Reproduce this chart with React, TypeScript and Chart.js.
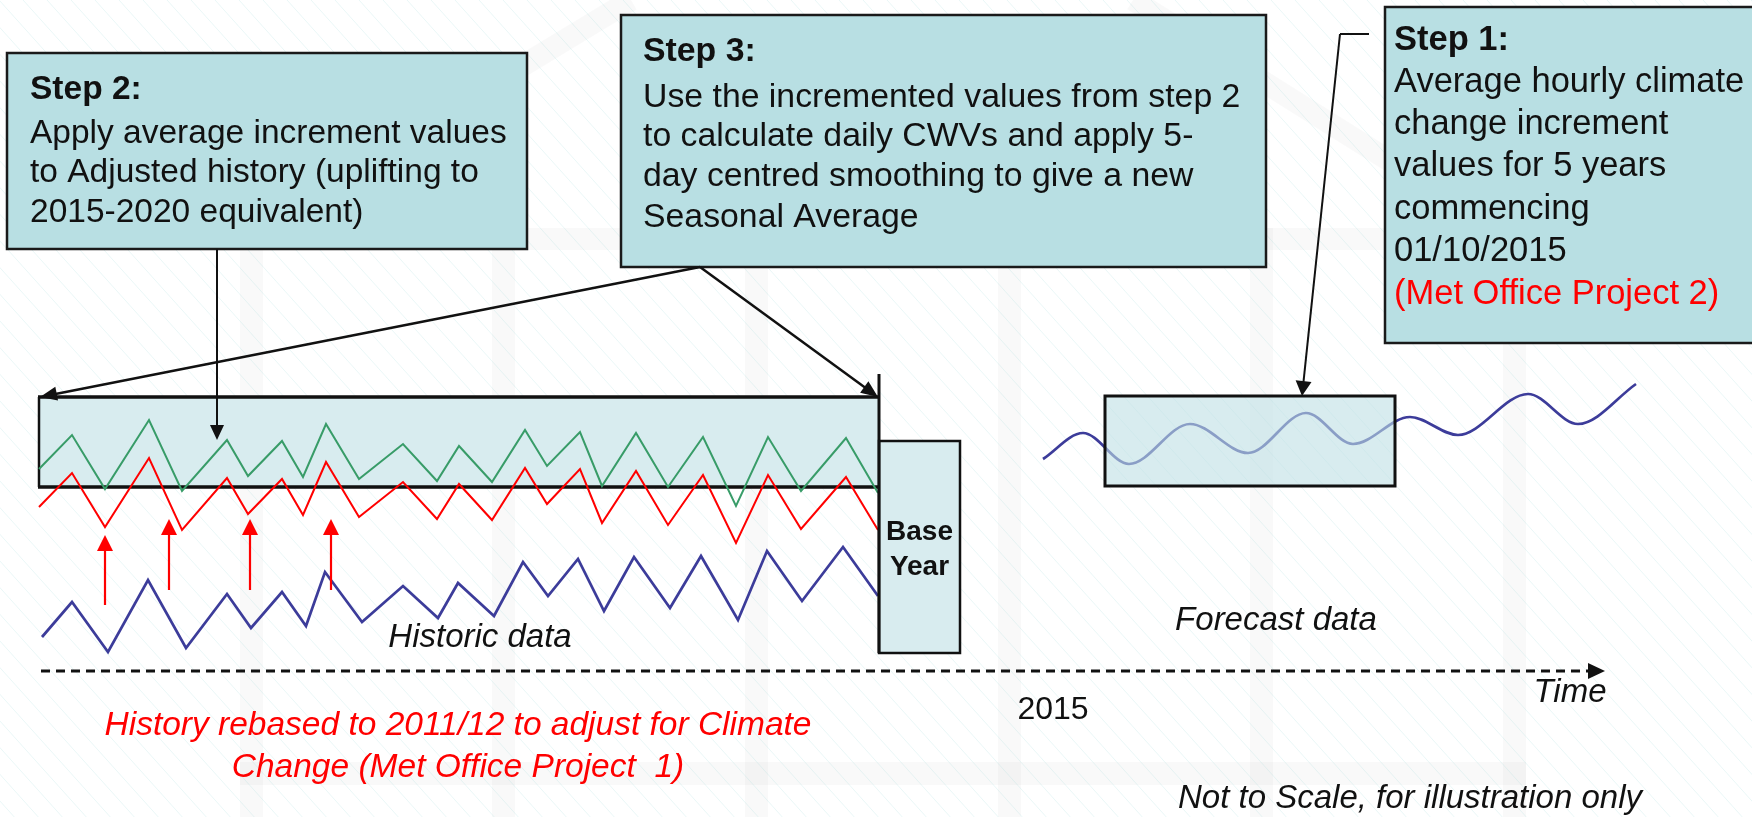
import React, { useEffect, useRef } from 'react';
import { Chart, registerables } from 'chart.js';

Chart.register(...registerables);

// ---------------- DATA (time units, value units) ----------------
const historicTime = [4.2, 7.2, 10.8, 14.8, 18.6, 22.7, 25.1, 28.2, 30.6, 32.5, 36.2, 40.3, 43.8, 45.8, 49.4, 52.3, 54.8, 57.8, 60.4, 63.4, 67.0, 70.1, 73.8, 76.7, 80.2, 84.3, 87.8];
const historicData = [18.0, 21.5, 16.5, 23.7, 16.9, 22.3, 18.9, 22.5, 19.1, 24.5, 19.5, 23.1, 19.9, 23.4, 20.1, 25.5, 22.1, 25.8, 20.6, 26.0, 20.9, 26.1, 19.7, 26.6, 21.6, 27.0, 22.1];

const adjustedTime = [3.9, 7.2, 10.5, 14.9, 18.2, 22.7, 24.8, 28.2, 30.3, 32.6, 35.9, 40.3, 43.7, 45.9, 49.2, 52.5, 54.7, 58.0, 60.2, 63.6, 66.8, 70.3, 73.6, 76.8, 80.1, 84.6, 87.8];
const rebasedHistory = [31.0, 34.4, 29.0, 35.9, 28.7, 33.9, 30.3, 33.8, 30.2, 35.5, 30.0, 33.5, 29.8, 33.3, 29.7, 34.9, 31.3, 34.8, 29.4, 34.6, 29.2, 34.2, 27.4, 34.2, 28.8, 34.0, 28.7];
const upliftedHistory = [34.8, 38.2, 32.8, 39.7, 32.6, 37.7, 34.1, 37.6, 34.0, 39.3, 33.8, 37.3, 33.6, 37.1, 33.5, 38.7, 35.1, 38.5, 33.1, 38.4, 33.0, 38.0, 31.1, 38.0, 32.6, 37.9, 32.4];

const forecastTime = [104.3, 108.3, 112.9, 119.0, 124.8, 130.6, 135.3, 141.0, 145.8, 152.8, 157.8, 163.6];
const forecastValues = [35.8, 38.4, 35.3, 39.3, 36.4, 40.4, 37.3, 40.0, 38.2, 42.3, 39.3, 43.3];

const redArrowTimes = [10.5, 16.9, 25.0, 33.1];
const timeTickLabel = '2015';

// ---------------- LAYOUT / STYLE ----------------
const W = 1752;
const H = 817;
const FONT = '"Liberation Sans", Arial, Helvetica, sans-serif';
const BLUE = '#3c3c9a';
const RED = '#ff0000';
const GREEN = '#389c68';
const INK = '#111111';
const STEP_FILL = '#b8dfe3';

type Line = { text: string; v: number; bold?: boolean; color?: string };
type StepBox = { left: number; right: number; top: number; bottom: number; textX: number; size: number; lines: Line[] };

const stepBoxes: StepBox[] = [
  {
    left: 0.7, right: 52.7, top: 76.4, bottom: 56.8, textX: 3.0, size: 33.5,
    lines: [
      { text: 'Step 2:', v: 72.7, bold: true },
      { text: 'Apply average increment values', v: 68.3 },
      { text: 'to Adjusted history (uplifting to', v: 64.4 },
      { text: '2015-2020 equivalent)', v: 60.4 },
    ],
  },
  {
    left: 62.1, right: 126.6, top: 80.2, bottom: 55.0, textX: 64.3, size: 33.8,
    lines: [
      { text: 'Step 3:', v: 76.5, bold: true },
      { text: 'Use the incremented values from step 2', v: 71.9 },
      { text: 'to calculate daily CWVs and apply 5-', v: 68.0 },
      { text: 'day centred smoothing to give a new', v: 64.0 },
      { text: 'Seasonal Average', v: 59.9 },
    ],
  },
  {
    left: 138.5, right: 178, top: 81.0, bottom: 47.4, textX: 139.4, size: 34.5,
    lines: [
      { text: 'Step 1:', v: 77.7, bold: true },
      { text: 'Average hourly climate', v: 73.5 },
      { text: 'change increment', v: 69.3 },
      { text: 'values for 5 years', v: 65.1 },
      { text: 'commencing', v: 60.8 },
      { text: '01/10/2015', v: 56.6 },
      { text: '(Met Office Project 2)', v: 52.3, color: RED },
    ],
  },
];

const historicBox = { left: 3.9, right: 87.9, top: 42.0, bottom: 33.0 };
const baseYearBox = { left: 87.9, right: 96.0, top: 37.6, bottom: 16.4, lineTop: 44.3 };
const forecastBox = { left: 110.5, right: 139.5, top: 42.1, bottom: 33.1 };

function drawArrow(ctx: CanvasRenderingContext2D, fx: number, fy: number, tx: number, ty: number, lw: number, len: number, half: number, color: string) {
  const a = Math.atan2(ty - fy, tx - fx);
  const c = Math.cos(a), s = Math.sin(a);
  ctx.save();
  ctx.strokeStyle = color;
  ctx.fillStyle = color;
  ctx.lineWidth = lw;
  ctx.lineCap = 'butt';
  ctx.beginPath();
  ctx.moveTo(fx, fy);
  ctx.lineTo(tx - len * 0.7 * c, ty - len * 0.7 * s);
  ctx.stroke();
  ctx.beginPath();
  ctx.moveTo(tx, ty);
  ctx.lineTo(tx - len * c + half * s, ty - len * s - half * c);
  ctx.lineTo(tx - len * c - half * s, ty - len * s + half * c);
  ctx.closePath();
  ctx.fill();
  ctx.restore();
}

const diagramPlugin = {
  id: 'diagram',
  beforeDatasetsDraw(chart: any) {
    const ctx: CanvasRenderingContext2D = chart.ctx;
    const X = (t: number) => chart.scales.x.getPixelForValue(t);
    const Y = (v: number) => chart.scales.y.getPixelForValue(v);
    ctx.save();
    ctx.fillStyle = '#ffffff';
    ctx.fillRect(0, 0, chart.width, chart.height);
    // faint house outline in background
    ctx.fillStyle = 'rgba(0,0,0,0.022)';
    [24.0, 49.2, 74.5, 99.8, 125.0, 150.3].forEach((t) => {
      ctx.fillRect(X(t), Y(58.9), X(t + 2.3) - X(t), Y(0) - Y(58.9));
    });
    ctx.fillRect(X(24.0), Y(58.9), X(152.6) - X(24.0), Y(56.7) - Y(58.9));
    ctx.fillRect(X(24.0), Y(5.5), X(152.6) - X(24.0), Y(3.2) - Y(5.5));
    ctx.strokeStyle = 'rgba(0,0,0,0.022)';
    ctx.lineWidth = 22;
    ctx.beginPath();
    ctx.moveTo(X(24.0), Y(58.0));
    ctx.lineTo(X(63.1), Y(81.7));
    ctx.moveTo(X(113.3), Y(81.7));
    ctx.lineTo(X(152.7), Y(57.0));
    ctx.stroke();
    // faint diagonal hatch
    ctx.strokeStyle = 'rgba(150,215,215,0.2)';
    ctx.lineWidth = 1;
    ctx.beginPath();
    for (let x0 = -chart.height; x0 < chart.width; x0 += 24) {
      ctx.moveTo(x0, 0);
      ctx.lineTo(x0 + chart.height * 0.9, chart.height);
    }
    ctx.stroke();
    // historic box (under the lines)
    const hb = historicBox;
    ctx.fillStyle = '#d8ecef';
    ctx.fillRect(X(hb.left), Y(hb.top), X(hb.right) - X(hb.left), Y(hb.bottom) - Y(hb.top));
    ctx.strokeStyle = INK;
    ctx.lineWidth = 2.5;
    ctx.beginPath();
    ctx.moveTo(X(hb.left), Y(hb.top));
    ctx.lineTo(X(hb.left), Y(hb.bottom));
    ctx.stroke();
    ctx.lineWidth = 3.5;
    ctx.beginPath();
    ctx.moveTo(X(hb.left) - 1, Y(hb.top));
    ctx.lineTo(X(hb.right), Y(hb.top));
    ctx.moveTo(X(hb.left) - 1, Y(hb.bottom));
    ctx.lineTo(X(hb.right), Y(hb.bottom));
    ctx.stroke();
    ctx.restore();
  },
  afterDatasetsDraw(chart: any) {
    const ctx: CanvasRenderingContext2D = chart.ctx;
    const X = (t: number) => chart.scales.x.getPixelForValue(t);
    const Y = (v: number) => chart.scales.y.getPixelForValue(v);
    ctx.save();

    // forecast box overlay
    const fb = forecastBox;
    ctx.fillStyle = 'rgba(190,223,228,0.6)';
    ctx.fillRect(X(fb.left), Y(fb.top), X(fb.right) - X(fb.left), Y(fb.bottom) - Y(fb.top));
    ctx.strokeStyle = INK;
    ctx.lineWidth = 3;
    ctx.strokeRect(X(fb.left), Y(fb.top), X(fb.right) - X(fb.left), Y(fb.bottom) - Y(fb.top));

    // base year box
    const bb = baseYearBox;
    ctx.fillStyle = '#d8ecef';
    ctx.fillRect(X(bb.left), Y(bb.top), X(bb.right) - X(bb.left), Y(bb.bottom) - Y(bb.top));
    ctx.lineWidth = 2.5;
    ctx.strokeRect(X(bb.left), Y(bb.top), X(bb.right) - X(bb.left), Y(bb.bottom) - Y(bb.top));
    ctx.lineWidth = 3;
    ctx.beginPath();
    ctx.moveTo(X(bb.left), Y(bb.lineTop));
    ctx.lineTo(X(bb.left), Y(bb.bottom));
    ctx.stroke();
    ctx.fillStyle = INK;
    ctx.font = `bold 28px ${FONT}`;
    ctx.textAlign = 'center';
    ctx.textBaseline = 'middle';
    ctx.fillText('Base', X((bb.left + bb.right) / 2), Y(28.5));
    ctx.fillText('Year', X((bb.left + bb.right) / 2), Y(25.0));

    // step boxes
    stepBoxes.forEach((b) => {
      const x0 = X(b.left), y0 = Y(b.top), w = X(b.right) - x0, h = Y(b.bottom) - y0;
      ctx.fillStyle = STEP_FILL;
      ctx.fillRect(x0, y0, w, h);
      ctx.strokeStyle = '#1a1a1a';
      ctx.lineWidth = 2.5;
      ctx.strokeRect(x0, y0, w, h);
      ctx.textAlign = 'left';
      ctx.textBaseline = 'middle';
      b.lines.forEach((ln) => {
        ctx.font = `${ln.bold ? 'bold ' : ''}${b.size}px ${FONT}`;
        ctx.fillStyle = ln.color || INK;
        const tx = X(b.textX);
        const maxW = b.right > 175 ? undefined : X(b.right) - tx - 4;
        if (maxW) ctx.fillText(ln.text, tx, Y(ln.v), maxW);
        else ctx.fillText(ln.text, tx, Y(ln.v));
      });
    });

    // connectors
    drawArrow(ctx, X(21.7), Y(56.8), X(21.7), Y(37.7), 2, 15, 7, INK);
    drawArrow(ctx, X(70.0), Y(55.0), X(4.0), Y(42.0), 2.5, 17, 7, INK);
    drawArrow(ctx, X(70.0), Y(55.0), X(87.8), Y(42.0), 2.5, 17, 7, INK);
    ctx.strokeStyle = INK;
    ctx.lineWidth = 2;
    ctx.beginPath();
    ctx.moveTo(X(136.9), Y(78.3));
    ctx.lineTo(X(134.0), Y(78.3));
    ctx.stroke();
    drawArrow(ctx, X(134.0), Y(78.3), X(130.2), Y(42.1), 2, 15, 8, INK);

    // red uplift arrows
    redArrowTimes.forEach((t, i) => {
      const tip = i === 0 ? 28.2 : 29.8;
      const tail = i === 0 ? 21.2 : 22.7;
      drawArrow(ctx, X(t), Y(tail), X(t), Y(tip), 2.2, 16, 8, RED);
    });

    // dashed time axis
    ctx.strokeStyle = INK;
    ctx.lineWidth = 3;
    ctx.setLineDash([9, 6]);
    ctx.beginPath();
    ctx.moveTo(X(4.1), Y(14.6));
    ctx.lineTo(X(159.0), Y(14.6));
    ctx.stroke();
    ctx.setLineDash([]);
    ctx.fillStyle = INK;
    ctx.beginPath();
    ctx.moveTo(X(160.5), Y(14.6));
    ctx.lineTo(X(158.8), Y(14.6) - 8);
    ctx.lineTo(X(158.8), Y(14.6) + 8);
    ctx.closePath();
    ctx.fill();

    // labels
    ctx.textAlign = 'center';
    ctx.textBaseline = 'middle';
    ctx.fillStyle = INK;
    ctx.font = `italic 33px ${FONT}`;
    ctx.fillText('Historic data', X(48.0), Y(17.9));
    ctx.fillText('Forecast data', X(127.6), Y(19.6));
    ctx.fillText('Time', X(157.0), Y(12.4));
    ctx.font = `32px ${FONT}`;
    ctx.fillText(timeTickLabel, X(105.3), Y(10.7));
    ctx.font = `italic 33.5px ${FONT}`;
    ctx.fillStyle = RED;
    ctx.fillText('History rebased to 2011/12 to adjust for Climate', X(45.8), Y(9.1));
    ctx.fillText('Change (Met Office Project  1)', X(45.8), Y(4.9));
    ctx.fillStyle = INK;
    ctx.font = `italic 33px ${FONT}`;
    ctx.fillText('Not to Scale, for illustration only', X(141.0), Y(1.8));

    ctx.restore();
  },
};

export default function App() {
  const canvasRef = useRef<HTMLCanvasElement | null>(null);

  useEffect(() => {
    const canvas = canvasRef.current;
    if (!canvas) return;
    const toPts = (xs: number[], ys: number[]) => xs.map((x, i) => ({ x, y: ys[i] }));
    const chart = new Chart(canvas, {
      type: 'line',
      data: {
        datasets: [
          { label: 'Historic data', data: toPts(historicTime, historicData), borderColor: BLUE, borderWidth: 2.7, pointRadius: 0, tension: 0, fill: false },
          { label: 'Rebased history', data: toPts(adjustedTime, rebasedHistory), borderColor: RED, borderWidth: 2, pointRadius: 0, tension: 0, fill: false },
          { label: 'Uplifted history', data: toPts(adjustedTime, upliftedHistory), borderColor: GREEN, borderWidth: 2, pointRadius: 0, tension: 0, fill: false },
          { label: 'Forecast data', data: toPts(forecastTime, forecastValues), borderColor: BLUE, borderWidth: 2.7, pointRadius: 0, cubicInterpolationMode: 'monotone', fill: false },
        ],
      },
      options: {
        animation: false,
        responsive: false,
        maintainAspectRatio: false,
        devicePixelRatio: 1,
        layout: { padding: 0 },
        events: [],
        scales: {
          x: { type: 'linear', min: 0, max: 175.2, display: false },
          y: { type: 'linear', min: 0, max: 81.7, display: false },
        },
        plugins: {
          legend: { display: false },
          tooltip: { enabled: false },
        },
      } as any,
      plugins: [diagramPlugin],
    });
    return () => chart.destroy();
  }, []);

  return (
    <div style={{ position: 'fixed', left: 0, top: 0, width: W, height: H, background: '#fff' }}>
      <canvas ref={canvasRef} width={W} height={H} style={{ display: 'block', width: W, height: H }} />
    </div>
  );
}
